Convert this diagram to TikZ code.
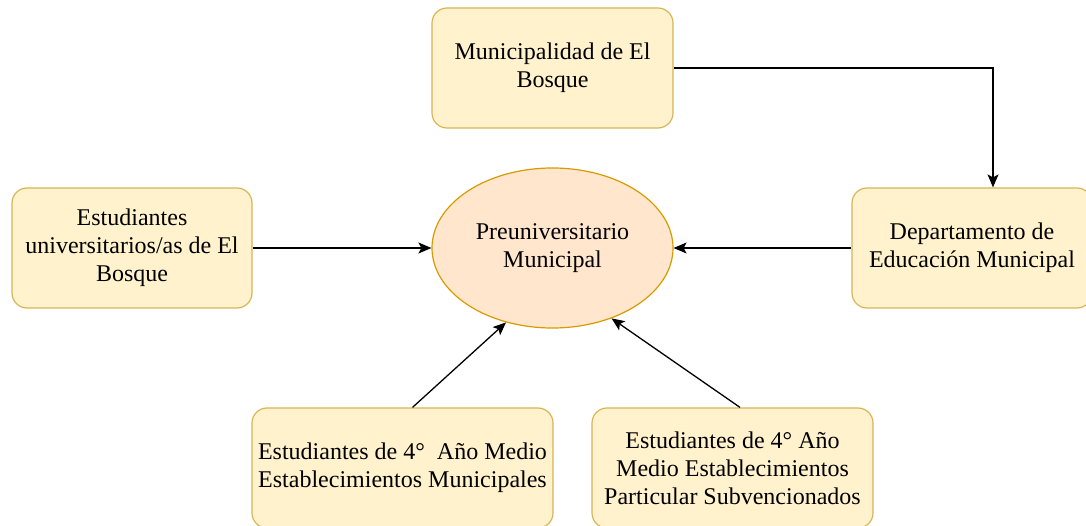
\documentclass[tikz,border=0pt]{standalone}
\usepackage{fontspec}
\setmainfont{Liberation Serif}
\usetikzlibrary{shapes.geometric,arrows.meta}
\definecolor{boxfill}{HTML}{FFF2CC}
\definecolor{boxline}{HTML}{D6B656}
\definecolor{ellfill}{HTML}{FFE6CC}
\definecolor{ellline}{HTML}{D79B00}
\tikzset{
  ybox/.style={draw=boxline, fill=boxfill, line width=1.2pt, rounded corners=15pt,
    minimum height=120pt, inner sep=0pt, align=center,
    font=\fontsize{24}{28}\selectfont},
  yell/.style={ellipse, draw=ellline, fill=ellfill, line width=1.2pt,
    minimum width=241pt, minimum height=160pt, inner sep=0pt, align=center,
    font=\fontsize{24}{28}\selectfont},
  conn/.style={line width=1.3pt, -{Stealth[length=13pt,width=11pt,inset=3pt]}}
}
\begin{document}
\begin{tikzpicture}[x=1pt,y=-1pt]
\useasboundingbox (0,0) rectangle (1086,526);
\node[ybox, minimum width=241pt] (top) at (552.5,68) {Municipalidad de El\\Bosque};
\node[ybox, minimum width=240pt] (left) at (132,248) {Estudiantes\\universitarios/as de El\\Bosque};
\node[yell] (pre) at (552.5,248) {Preuniversitario\\Municipal};
\node[ybox, minimum width=240pt] (right) at (972,248) {Departamento de\\Educación Municipal};
\node[ybox, minimum width=301pt] (bl) at (402.5,468) {Estudiantes de 4°\ \ Año Medio\\Establecimientos Municipales};
\node[ybox, minimum width=281pt] (br) at (732.5,468) {Estudiantes de 4° Año\\Medio Establecimientos\\Particular Subvencionados};
\draw[conn] (top.east) -| ([xshift=21pt]right.north);
\draw[conn] (right.west) -- (pre.east);
\draw[conn] (left.east) -- (pre.west);
\draw[conn] ([xshift=10pt]bl.north) -- (pre.-122);
\draw[conn] ([xshift=7.5pt]br.north) -- (pre.-50);
\end{tikzpicture}
\end{document}
